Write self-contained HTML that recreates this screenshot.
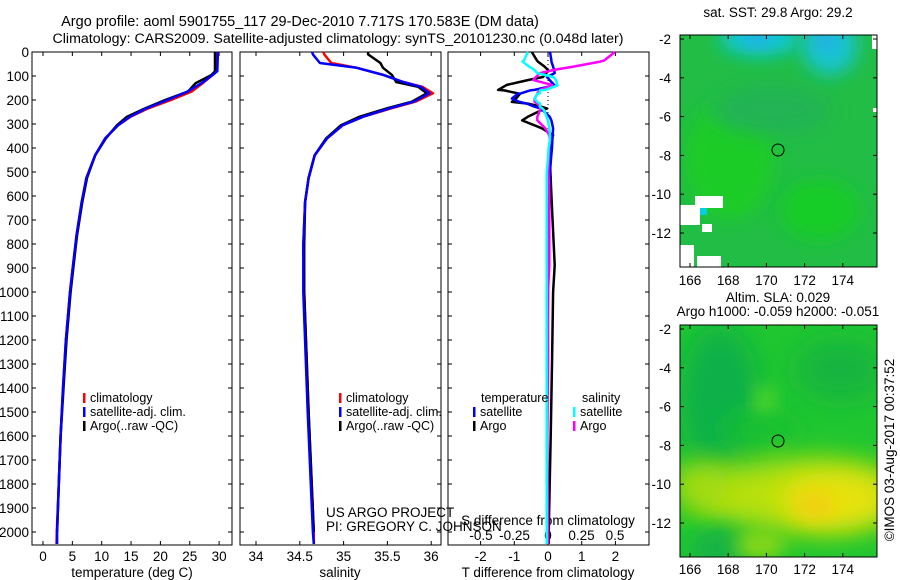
<!DOCTYPE html>
<html><head><meta charset="utf-8"><style>
body{margin:0;background:#fff}
svg{display:block;font-family:"Liberation Sans",sans-serif;font-size:13.5px}
</style></head><body>
<svg id="c" width="900" height="580" viewBox="0 0 900 580">
<defs>
<filter id="b1" x="-50%" y="-50%" width="200%" height="200%"><feGaussianBlur stdDeviation="9"/></filter>
<filter id="b2" x="-50%" y="-50%" width="200%" height="200%"><feGaussianBlur stdDeviation="14"/></filter>
<clipPath id="m1c"><rect x="680" y="35" width="197" height="232"/></clipPath>
<clipPath id="m2c"><rect x="680" y="325" width="197" height="232"/></clipPath>
</defs>
<text x="300" y="26" text-anchor="middle" font-size="14.5">Argo profile: aoml 5901755_117 29-Dec-2010 7.717S 170.583E (DM data)</text>
<text x="338" y="43" text-anchor="middle" font-size="14.2">Climatology: CARS2009. Satellite-adjusted climatology: synTS_20101230.nc (0.048d later)</text>

<!-- map 1 -->
<g clip-path="url(#m1c)">
<rect x="680" y="35" width="197" height="232" fill="#22bd45"/>
<ellipse cx="730" cy="160" rx="45" ry="60" fill="#1ccc25" filter="url(#b1)"/>
<ellipse cx="820" cy="210" rx="40" ry="30" fill="#14cc28" filter="url(#b1)"/>
<ellipse cx="770" cy="110" rx="60" ry="25" fill="#22b454" filter="url(#b1)"/>
<ellipse cx="760" cy="38" rx="40" ry="18" fill="#10c8d8" filter="url(#b1)"/>
<ellipse cx="830" cy="45" rx="28" ry="30" fill="#12c4d0" filter="url(#b1)"/>
<ellipse cx="757" cy="38" rx="12" ry="7" fill="#30a0f0" filter="url(#b1)"/>
<ellipse cx="826" cy="40" rx="10" ry="8" fill="#30a0f0" filter="url(#b1)"/>
<rect x="680" y="205" width="20" height="20" fill="#fff"/>
<rect x="695" y="196" width="28" height="12" fill="#fff"/>
<rect x="680" y="245" width="14" height="25" fill="#fff"/>
<rect x="697" y="256" width="24" height="12" fill="#fff"/>
<rect x="702" y="224" width="10" height="8" fill="#fff"/>
<rect x="700" y="208" width="7" height="7" fill="#00d0e0"/>
<rect x="872" y="35" width="5" height="14" fill="#fff"/>
<rect x="873" y="108" width="4" height="4" fill="#fff"/>
</g>
<rect x="680" y="35" width="197" height="232" fill="none" stroke="#000"/>
<circle cx="778" cy="150" r="6" fill="none" stroke="#000"/>
<text x="778" y="17" text-anchor="middle">sat. SST: 29.8 Argo: 29.2</text>

<!-- map 2 -->
<g clip-path="url(#m2c)">
<rect x="680" y="325" width="197" height="232" fill="#20c630"/>
<ellipse cx="720" cy="400" rx="40" ry="75" fill="#10b048" filter="url(#b2)"/>
<ellipse cx="840" cy="370" rx="45" ry="30" fill="#12b440" filter="url(#b2)"/>
<ellipse cx="760" cy="430" rx="40" ry="20" fill="#18c030" filter="url(#b2)"/>
<ellipse cx="765" cy="400" rx="10" ry="14" fill="#5cd828" filter="url(#b1)"/>
<ellipse cx="800" cy="495" rx="110" ry="36" fill="#b8e010" filter="url(#b2)"/>
<ellipse cx="835" cy="500" rx="55" ry="28" fill="#e8e208" filter="url(#b2)"/>
<ellipse cx="815" cy="505" rx="20" ry="14" fill="#f0d008" filter="url(#b1)"/>
<ellipse cx="700" cy="485" rx="30" ry="22" fill="#a8dc10" filter="url(#b2)"/>
<ellipse cx="720" cy="550" rx="30" ry="22" fill="#14b444" filter="url(#b1)"/>
<ellipse cx="760" cy="545" rx="25" ry="14" fill="#8cd818" filter="url(#b1)"/>
</g>
<rect x="680" y="325" width="197" height="232" fill="none" stroke="#000"/>
<circle cx="778" cy="441" r="6" fill="none" stroke="#000"/>
<text x="778" y="302" text-anchor="middle">Altim. SLA: 0.029</text>
<text x="778" y="316" text-anchor="middle">Argo h1000: -0.059 h2000: -0.051</text>
<text transform="translate(894,450) rotate(-90)" text-anchor="middle">©IMOS 03-Aug-2017 00:37:52</text>

<text x="326" y="517">US ARGO PROJECT</text>
<text x="326" y="531">PI: GREGORY C. JOHNSON</text>
<g id="g"></g>
</svg>
<script>
// ---- data ----
const depthT = [0,80,96,130,165,200,235,270,305,360,430,525,625,765,915,1000,1200,1400,1600,1800,2000,2050];
const tempClim = [29.7,29.6,28.9,27.2,25.3,21.8,17.9,14.9,12.8,10.6,8.9,7.4,6.6,5.7,5.0,4.6,3.9,3.4,3.0,2.7,2.35,2.3];
const tempSat  = [29.8,29.7,28.9,27.0,24.6,21.2,17.6,14.8,12.8,10.6,8.9,7.4,6.6,5.7,5.0,4.6,3.9,3.4,3.0,2.7,2.4,2.4];
const tempArgo = [29.3,29.3,28.7,26.0,24.7,20.8,17.4,14.3,12.6,10.7,8.9,7.5,6.7,5.8,5.1,4.7,4.0,3.5,3.0,2.7,2.4];
const depthS = [0,10,46,66,95,125,145,172,207,234,270,305,360,430,525,625,805,1000,1500,2000,2050];
const salClim = [34.77,34.78,34.86,35.15,35.45,35.68,35.9,36.02,35.82,35.55,35.22,34.99,34.81,34.67,34.6,34.56,34.54,34.55,34.6,34.66,34.66];
const salSat  = [34.64,34.65,34.73,35.15,35.45,35.68,35.88,35.98,35.8,35.53,35.22,34.99,34.81,34.67,34.6,34.56,34.54,34.54,34.59,34.65,34.66];
const salArgo = [35.28,35.28,35.42,35.45,35.55,35.6,35.85,35.95,35.78,35.5,35.18,34.97,34.8,34.67,34.6,34.56,34.55,34.55,34.6,34.66];
const depthD = [0,35,40,61,75,88,104,117,137,139,158,160,172,174,194,208,215,228,236,243,270,285,318,347,365,400,444,500,597,888,1000,1300,1600,2000,2050];
const tDiffSat  = [0.06,0.1,0.1,0.15,0.18,0.2,-0.03,0.05,0.18,0.2,-0.4,-0.53,-0.8,-0.9,-1.07,-0.85,-0.63,-0.4,-0.2,-0.15,0.05,0.1,0.15,0.14,0.13,0.12,0.09,0.06,0.03,0.0,0.0,-0.02,-0.03,-0.03,-0.03];
const tDiffArgo = [-0.48,-0.33,-0.3,-0.1,0.0,-0.05,-0.15,-0.6,-1.22,-1.25,-1.48,-1.3,-0.9,-0.83,-0.95,-1.07,-0.6,-0.2,-0.03,-0.2,-0.6,-0.77,-0.18,0.15,0.1,0.08,0.06,0.07,0.1,0.2,0.15,0.12,0.08,0.02,0.02];
const sDiffSat  = [-0.15,-0.18,-0.19,-0.14,-0.1,-0.08,0.04,0.06,0.07,0.07,-0.02,-0.06,-0.06,-0.08,-0.1,-0.08,-0.06,-0.06,-0.04,-0.03,-0.01,0,0.01,0.015,0.015,0.005,0,-0.01,-0.01,-0.01,-0.01,-0.01,-0.01,-0.01,-0.01];
const sDiffArgo = [0.5,0.42,0.39,0.19,0.04,-0.06,-0.09,-0.11,0.03,0.03,-0.06,-0.06,-0.08,-0.08,-0.1,-0.1,-0.08,-0.06,-0.06,-0.06,-0.08,-0.08,-0.02,0.01,0.015,0.01,0.005,0.003,0.01,0.01,0.0,0.0,-0.005,0.0,0.0];
const depthTicks = [0,100,200,300,400,500,600,700,800,900,1000,1100,1200,1300,1400,1500,1600,1700,1800,1900,2000];
const tTicks = [0,5,10,15,20,25,30];
const sTicks = [34,34.5,35,35.5,36];
const tdTicks = [-2,-1,0,1,2];
const tdLabels = ["-2","-1","0","1","2"];
const sdTicks = [-0.5,-0.25,0,0.25,0.5];
const sdLabels = ["-0.5","-0.25","0","0.25","0.5"];
const latTicks = [-2,-4,-6,-8,-10,-12];
const lonTicks = [166,168,170,172,174];

// ---- scales ----
const PT=52, PB=545;
const yD = d => PT + d*0.24;
const xT = v => 43 + v*5.87;
const xS = v => 256 + (v-34)*87.6;
const xTd = v => 548 + v*33.7;
const xSd = v => 548 + v*134;
const lonX = v => 690 + (v-166)*19.1;
const latY1 = v => 39 + (-2-v)*19.4;
const latY2 = v => 329 + (-2-v)*19.4;

const NS="http://www.w3.org/2000/svg";
const G=document.getElementById('g');
function el(tag, attrs, parent){const e=document.createElementNS(NS,tag);for(const k in attrs)e.setAttribute(k,attrs[k]);(parent||G).appendChild(e);return e;}
function txt(x,y,s,anchor){const t=el('text',{x:x,y:y,'text-anchor':anchor||'middle'});t.textContent=s;return t;}

const panels=[{x0:32,x1:232,name:'temperature-panel'},{x0:240,x1:441,name:'salinity-panel'},{x0:448,x1:649,name:'difference-panel'}];
panels.forEach(p=>{
  const r=el('rect',{x:p.x0,y:PT,width:p.x1-p.x0,height:PB-PT,fill:'none',stroke:'#000'});
  
  
  depthTicks.forEach(d=>{
    el('line',{x1:p.x0,x2:p.x0+4,y1:yD(d),y2:yD(d),stroke:'#000'});
    el('line',{x1:p.x1-4,x2:p.x1,y1:yD(d),y2:yD(d),stroke:'#000'});
  });
});
depthTicks.forEach(d=>{
  const t=txt(29,yD(d)+5,String(d),'end');
  
  
});
function xAxis(ticks,labels,fx,yLab,top){
  ticks.forEach((v,i)=>{
    const x=fx(v);
    el('line',{x1:x,x2:x,y1:PB,y2:PB-4,stroke:'#000'});
    if(top) el('line',{x1:x,x2:x,y1:PT,y2:PT+4,stroke:'#000'});
    const t=txt(x,yLab,labels[i]);
    
    
  });
}
xAxis(tTicks,tTicks.map(String),xT,561,true);
xAxis(sTicks,sTicks.map(String),xS,561,true);
xAxis(tdTicks,tdLabels,xTd,561,true);
sdTicks.forEach((v,i)=>{const t=txt(xSd(v),540,sdLabels[i]);
  
  });
[[132,577,'temperature (deg C)','x-axis-title-temperature'],[340,577,'salinity','x-axis-title-salinity'],[548,577,'T difference from climatology','x-axis-title-t-diff'],[548,525,'S difference from climatology','x-axis-title-s-diff']].forEach(a=>{
  const t=txt(a[0],a[1],a[2]);
  
  
});

function line(depths,vals,fx,color,name,w){
  const pts=vals.map((v,i)=>fx(v).toFixed(1)+','+yD(depths[i]).toFixed(1)).join(' ');
  const p=el('polyline',{points:pts,fill:'none',stroke:color,'stroke-width':w||2.5,'stroke-linejoin':'round'});
  
  
}
line(depthT,tempClim,xT,'#f00','temp-climatology-line');
line(depthT,tempArgo,xT,'#000','temp-argo-line');
line(depthT,tempSat,xT,'#00f','temp-satellite-line');
line(depthS,salClim,xS,'#f00','sal-climatology-line');
line(depthS,salArgo,xS,'#000','sal-argo-line');
line(depthS,salSat,xS,'#00f','sal-satellite-line');
const dz=el('line',{x1:548,x2:548,y1:PT,y2:yD(350),stroke:'#000','stroke-dasharray':'1,3'});
line(depthD,tDiffArgo,xTd,'#000','t-diff-argo-line');
line(depthD,tDiffSat,xTd,'#00f','t-diff-satellite-line');
line(depthD,sDiffArgo,xSd,'#f0f','s-diff-argo-line');
line(depthD,sDiffSat,xSd,'#0ff','s-diff-satellite-line');

function legend(x,y,color,label,name){
  const g=el('g',{});
  
  
  el('rect',{x:x,y:y-9,width:2.5,height:10,fill:color},g);
  const t=el('text',{x:x+7,y:y,'font-size':'12.5'},g);t.textContent=label;
}
[[83,'legend-climatology-1'],[339,'legend-climatology-2']].forEach(a=>legend(a[0],402,'#f00','climatology',a[1]));
[[83,'legend-satellite-1'],[339,'legend-satellite-2']].forEach(a=>legend(a[0],416,'#00f','satellite-adj. clim.',a[1]));
[[83,'legend-argo-1'],[339,'legend-argo-2']].forEach(a=>legend(a[0],430,'#000','Argo(..raw -QC)',a[1]));
const lt=el('text',{x:481,y:402,'font-size':'12.5'});lt.textContent='temperature';


const ls=el('text',{x:582,y:402,'font-size':'12.5'});ls.textContent='salinity';


legend(473,416,'#00f','satellite','legend-t-satellite');
legend(473,430,'#000','Argo','legend-t-argo');
legend(573,416,'#0ff','satellite','legend-s-satellite');
legend(573,430,'#f0f','Argo','legend-s-argo');

// map axes
[[latY1,35,267,285],[latY2,325,557,574]].forEach(m=>{
  latTicks.forEach(v=>{
    const y=m[0](v);
    el('line',{x1:680,x2:684,y1:y,y2:y,stroke:'#000'});
    el('line',{x1:873,x2:877,y1:y,y2:y,stroke:'#000'});
    const t=txt(671,y+5,String(v),'end');
    
    
  });
  lonTicks.forEach(v=>{
    const x=lonX(v);
    el('line',{x1:x,x2:x,y1:m[1],y2:m[1]+4,stroke:'#000'});
    el('line',{x1:x,x2:x,y1:m[2]-4,y2:m[2],stroke:'#000'});
    const t=txt(x,m[3],String(v));
    
    
  });
});
</script>
</body></html>
